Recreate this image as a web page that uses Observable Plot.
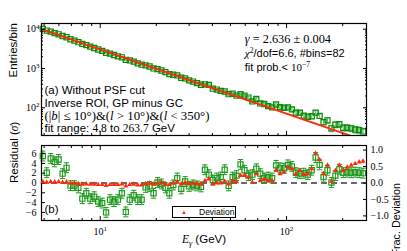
<!DOCTYPE html>
<html>
<head>
<meta charset="utf-8">
<script src="https://cdn.jsdelivr.net/npm/d3@7"></script>
<script src="https://cdn.jsdelivr.net/npm/@observablehq/plot@0.6"></script>
<style>
  html, body { margin: 0; padding: 0; background: #fff; }
  #chart { position: relative; width: 407px; height: 251px; background: #fff; overflow: hidden; }
  #chart svg { position: absolute; left: 0; }
  #legend { position: absolute; left: 172px; top: 206px; width: 62px; height: 10px; border: 1.2px solid #000; background: #fff;
            font: 8.5px 'Liberation Sans', Arial, sans-serif; color: #000; }
  #legend .tri { position: absolute; left: 8px; top: -1px; color: #ff2a0a; font-size: 6px; line-height: 12px; }
  #legend .lab { position: absolute; left: 26px; top: -1px; line-height: 12px; }
</style>
</head>
<body>
<div id="chart"></div>
<script>
// ---- data ----
const energy = [4.919,5.165,5.424,5.695,5.980,6.280,6.594,6.924,7.271,7.635,
  8.017,8.419,8.840,9.283,9.748,10.24,10.75,11.29,11.85,12.45,
  13.07,13.72,14.41,15.13,15.89,16.68,17.52,18.40,19.32,20.29,
  21.30,22.37,23.49,24.66,25.90,27.20,28.56,29.99,31.49,33.06,
  34.72,36.46,38.28,40.20,42.21,44.33,46.55,48.88,51.32,53.89,
  56.59,59.43,62.40,65.52,68.81,72.25,75.87,79.67,83.65,87.84,
  92.24,96.86,101.7,106.8,112.2,117.8,123.7,129.9,136.4,143.2,
  150.4,157.9,165.8,174.1,182.8,192.0,201.6,211.7,222.2,233.4,
  245.1,257.3];
const counts = [10190,9227,8685,7941,7403,6702,6248,5544,5118,4678,
  4230,3946,3605,3328,3041,2807,2510,2392,2209,2039,
  1922,1664,1605,1497,1353,1249,1202,1121,1003,965,
  891,807,721,694,666,580,558,499,465,425,
  385,396,383,306,291,269,260,222,227,203,
  221,204,182,145,168,129,125,110,102,121,
  104,100,102,91,75,75,63,59,61,75,
  62,43,48,30,37,38,31,31,30,28,
  27,25];
const residual = [5.5,2.1,5.0,4.3,4.8,1.9,3.1,-0.55,-0.55,-1.0,
  -3.2,-2.1,-3.2,-2.8,-3.8,-4.1,-6.0,-3.4,-3.8,-3.4,
  -2.1,-5.9,-3.4,-2.5,-3.4,-3.4,-0.9,-0.7,-2.1,0.1,
  -0.2,-1.0,-2.1,-0.4,1.0,-1.2,0.3,-0.7,-0.4,-0.6,
  -0.8,2.7,1.7,0.6,1.0,1.2,2.7,-0.6,1.2,1.5,
  3.8,2.6,1.5,1.7,2.9,1.9,1.0,1.2,1.0,3.6,
  3.1,3.0,3.7,3.4,2.1,1.9,2.0,1.7,2.6,5.2,
  3.7,1.2,2.6,0.1,1.5,2.8,2.1,2.2,2.1,2.2,
  2.1,2.0];
const fracDev = [0.04,0.02,0.04,0.03,0.04,0.02,0.03,-0.01,-0.01,-0.02,
  -0.04,-0.03,-0.04,-0.04,-0.05,-0.05,-0.08,-0.05,-0.05,-0.05,
  -0.03,-0.09,-0.05,-0.04,-0.06,-0.06,-0.02,-0.01,-0.04,0.0,
  0.0,-0.02,-0.05,-0.01,0.03,-0.03,0.01,-0.02,-0.01,-0.02,
  -0.04,0.07,0.12,-0.03,0.0,0.0,0.05,-0.03,0.07,0.04,
  0.23,0.23,0.18,0.02,0.28,0.07,0.12,0.07,0.07,0.38,
  0.28,0.33,0.48,0.43,0.28,0.38,0.26,0.28,0.43,0.9,
  0.71,0.28,0.54,0.05,0.38,0.54,0.38,0.48,0.54,0.59,
  0.64,0.66];
const fitEnergy = [4.8, 263.7];
const fitCounts = [10200, 14.5];

const xMajor = [10, 100];
const xMinor = [5,6,7,8,9,20,30,40,50,60,70,80,90,200];
const yMajorTop = [100, 1000, 10000];
const yMinorTop = [20,30,40,50,60,70,80,90,200,300,400,500,600,700,800,900,2000,3000,4000,5000,6000,7000,8000,9000];
const residTicks = [-6,-4,-2,0,2,4,6];
const fracTicks = [-1,-0.5,0,0.5,1];

const textA = ["(a) Without PSF cut", "Inverse ROI, GP minus GC",
  "(|*b*| ≤ 10°)&(*l* > 10°)&(*l* < 350°)", "fit range: ~4.8~ to ~263.7~ GeV"];
const textFit = ["*γ* = 2.636 ± 0.004", "*χ*^2^/dof=6.6, #bins=82", "fit prob.< ~10~^−7^"];

// ---- styles ----
const SERIF = "'Liberation Serif','DejaVu Serif',serif";
const SANS = "'Liberation Sans',Arial,sans-serif";
const darkGreen = "#0d8a0d";
const lightGreen = "#5cc45c";
const green2 = "#1f9a1f";
const red = "#ff2a0a";

const rows = energy.map((e, i) => ({E: e, N: counts[i], r: residual[i], d: fracDev[i]}));
const fitRows = fitEnergy.map((e, i) => ({E: e, N: fitCounts[i]}));

const xDomain = [4.84, 268.5];
const capSym = {draw(ctx) { ctx.moveTo(-2.6, 0); ctx.lineTo(2.6, 0); }};
const sup = d => "10^" + Math.round(Math.log10(d)) + "^";
const blank = () => "";

function xAxes(withLabels) {
  return [
    Plot.axisX({anchor: "bottom", ticks: xMajor, tickSize: -4, tickPadding: 11.5, tickFormat: withLabels ? sup : blank, label: null, fontSize: 10}),
    Plot.axisX({anchor: "bottom", ticks: xMinor, tickSize: -2, tickFormat: blank, label: null}),
    Plot.axisX({anchor: "top", ticks: xMajor, tickSize: -4, tickFormat: blank, label: null}),
    Plot.axisX({anchor: "top", ticks: xMinor, tickSize: -2, tickFormat: blank, label: null})
  ];
}
const baseStyle = {fontFamily: SERIF, fontSize: "10px", background: "transparent", overflow: "visible", color: "#000"};

// ---- top panel ----
const topPlot = Plot.plot({
  width: 407, height: 137, marginLeft: 41, marginRight: 41, marginTop: 23, marginBottom: 2,
  x: {type: "log", domain: xDomain},
  y: {type: "log", domain: [19.7, 13970]},
  style: baseStyle,
  marks: [
    Plot.ruleX(rows, {x: "E", y1: d => d.N - Math.sqrt(d.N), y2: d => d.N + Math.sqrt(d.N), stroke: lightGreen, strokeWidth: 1}),
    Plot.dot(rows, {x: "E", y: d => d.N + Math.sqrt(d.N), symbol: capSym, fill: "none", stroke: lightGreen, strokeWidth: 1}),
    Plot.dot(rows, {x: "E", y: d => d.N - Math.sqrt(d.N), symbol: capSym, fill: "none", stroke: lightGreen, strokeWidth: 1}),
    Plot.dot(rows, {x: "E", y: "N", symbol: "square", r: 2.9, fill: "none", stroke: darkGreen, strokeWidth: 1.2}),
    Plot.line(fitRows, {x: "E", y: "N", stroke: red, strokeWidth: 1.9, clip: true}),
    ...xAxes(false),
    Plot.axisY({anchor: "left", ticks: yMajorTop, tickSize: -4, tickPadding: 6, tickFormat: sup, label: null}),
    Plot.axisY({anchor: "left", ticks: yMinorTop, tickSize: -2, tickFormat: blank, label: null}),
    Plot.axisY({anchor: "right", ticks: yMajorTop, tickSize: -4, tickFormat: blank, label: null}),
    Plot.axisY({anchor: "right", ticks: yMinorTop, tickSize: -2, tickFormat: blank, label: null}),
    Plot.frame({stroke: "#000", strokeWidth: 1.2}),
    Plot.text(["Entries/bin"], {text: d => d, frameAnchor: "left", dx: -28, dy: -2, rotate: -90, fontFamily: SANS, fontSize: 11.5}),
    Plot.text([textA[0]], {text: d => d, frameAnchor: "top-left", dx: 3, dy: 62.3, textAnchor: "start", fontFamily: SANS, fontSize: 11.5}),
    Plot.text([textA[1]], {text: d => d, frameAnchor: "top-left", dx: 3, dy: 75.7, textAnchor: "start", fontFamily: SANS, fontSize: 11.5}),
    Plot.text([textA[2]], {text: d => d, frameAnchor: "top-left", dx: 3, dy: 87.3, textAnchor: "start", fontFamily: SERIF, fontSize: 12.8}),
    Plot.text([textA[3]], {text: d => d, frameAnchor: "top-left", dx: 3, dy: 100.7, textAnchor: "start", fontFamily: SANS, fontSize: 11.5}),
    Plot.text([textFit[0]], {text: d => d, frameAnchor: "top-left", dx: 203.3, dy: 10.8, textAnchor: "start", fontFamily: SERIF, fontSize: 12.3}),
    Plot.text([textFit[1]], {text: d => d, frameAnchor: "top-left", dx: 203.3, dy: 25.6, textAnchor: "start", fontFamily: SANS, fontSize: 11}),
    Plot.text([textFit[2]], {text: d => d, frameAnchor: "top-left", dx: 203.3, dy: 39.9, textAnchor: "start", fontFamily: SANS, fontSize: 11})
  ]
});
topPlot.style.top = "0px";

// ---- bottom panel (residual, left axis) ----
const bottomPlot = Plot.plot({
  width: 407, height: 114, marginLeft: 41, marginRight: 41, marginTop: 8, marginBottom: 31,
  x: {type: "log", domain: xDomain},
  y: {domain: [-7.65, 7.65]},
  style: baseStyle,
  marks: [
    Plot.ruleY([0], {stroke: "#3a3a3a", strokeWidth: 1.3, strokeDasharray: "6,4"}),
    Plot.ruleX(rows, {x: "E", y1: d => d.r - 1, y2: d => d.r + 1, stroke: green2, strokeWidth: 1}),
    Plot.dot(rows, {x: "E", y: d => d.r + 1, symbol: capSym, fill: "none", stroke: green2, strokeWidth: 1}),
    Plot.dot(rows, {x: "E", y: d => d.r - 1, symbol: capSym, fill: "none", stroke: green2, strokeWidth: 1}),
    Plot.dot(rows, {x: "E", y: "r", symbol: "square", r: 2.9, fill: "none", stroke: green2, strokeWidth: 1.2}),
    ...xAxes(true),
    Plot.axisY({anchor: "left", ticks: residTicks, tickSize: -4, tickPadding: 9, tickFormat: d3.format("d"), label: null}),
    Plot.frame({stroke: "#000", strokeWidth: 1.2}),
    Plot.text(["Residual (*σ*)"], {text: d => d, frameAnchor: "left", dx: -27, rotate: -90, fontFamily: SANS, fontSize: 11.5}),
    Plot.text(["Frac. Deviation"], {text: d => d, frameAnchor: "right", dx: 30, rotate: -90, fontFamily: SANS, fontSize: 10.8}),
    Plot.text(["(b)"], {text: d => d, frameAnchor: "bottom-left", dx: 3, dy: -8, textAnchor: "start", fontFamily: SANS, fontSize: 11.5}),
    Plot.text(["*E*_γ_ (GeV)"], {text: d => d, frameAnchor: "bottom", dy: 22.7, fontFamily: SANS, fontSize: 11.5})
  ]
});
bottomPlot.style.top = "137px";

// ---- bottom panel overlay (fractional deviation, right axis) ----
const overlayPlot = Plot.plot({
  width: 407, height: 114, marginLeft: 41, marginRight: 41, marginTop: 8, marginBottom: 31,
  x: {type: "log", domain: xDomain, axis: null},
  y: {domain: [-1.14, 1.14]},
  style: baseStyle,
  marks: [
    Plot.dot(rows, {x: "E", y: "d", symbol: "triangle", r: 1.9, fill: red, stroke: "none"}),
    Plot.axisY({anchor: "right", ticks: fracTicks, tickSize: -4, tickPadding: 8, tickFormat: d3.format(".1f"), label: null})
  ]
});
overlayPlot.style.top = "137px";

const chart = document.getElementById("chart");
chart.append(topPlot, bottomPlot, overlayPlot);

const legend = document.createElement("div");
legend.id = "legend";
legend.innerHTML = '<span class="tri">▲</span><span class="lab">Deviation</span>';
chart.append(legend);

// ---- rich text: *italic serif*, ~serif~, ^superscript^, _subscript_ ----
const NS = "http://www.w3.org/2000/svg";
function richify(svg) {
  svg.querySelectorAll("text").forEach(t => {
    if (t.querySelector("tspan")) return;
    const s = t.textContent;
    if (!/[\*\^_~]/.test(s)) return;
    const fs = parseFloat(getComputedStyle(t).fontSize) || 10;
    const parts = s.split(/(\*[^*]+\*|\^[^^]+\^|_[^_]+_|~[^~]+~)/).filter(p => p !== "");
    t.textContent = "";
    let shift = 0;
    for (const p of parts) {
      const ts = document.createElementNS(NS, "tspan");
      let txt = p, target = 0;
      const c = p[0];
      if (c === "*" && p.length > 2) { txt = p.slice(1, -1); ts.setAttribute("font-family", SERIF); ts.setAttribute("font-style", "italic"); }
      else if (c === "~" && p.length > 2) { txt = p.slice(1, -1); ts.setAttribute("font-family", SERIF); }
      else if (c === "^" && p.length > 2) { txt = p.slice(1, -1); target = -0.38 * fs; ts.setAttribute("font-family", SERIF); ts.setAttribute("font-size", (0.7 * fs) + "px"); }
      else if (c === "_" && p.length > 2) { txt = p.slice(1, -1); target = 0.22 * fs; ts.setAttribute("font-family", SERIF); ts.setAttribute("font-style", "italic"); ts.setAttribute("font-size", (0.7 * fs) + "px"); }
      if (target !== shift) { ts.setAttribute("dy", (target - shift) + "px"); shift = target; }
      ts.textContent = txt;
      t.appendChild(ts);
    }
  });
}
[topPlot, bottomPlot, overlayPlot].forEach(richify);
</script>
</body>
</html>
